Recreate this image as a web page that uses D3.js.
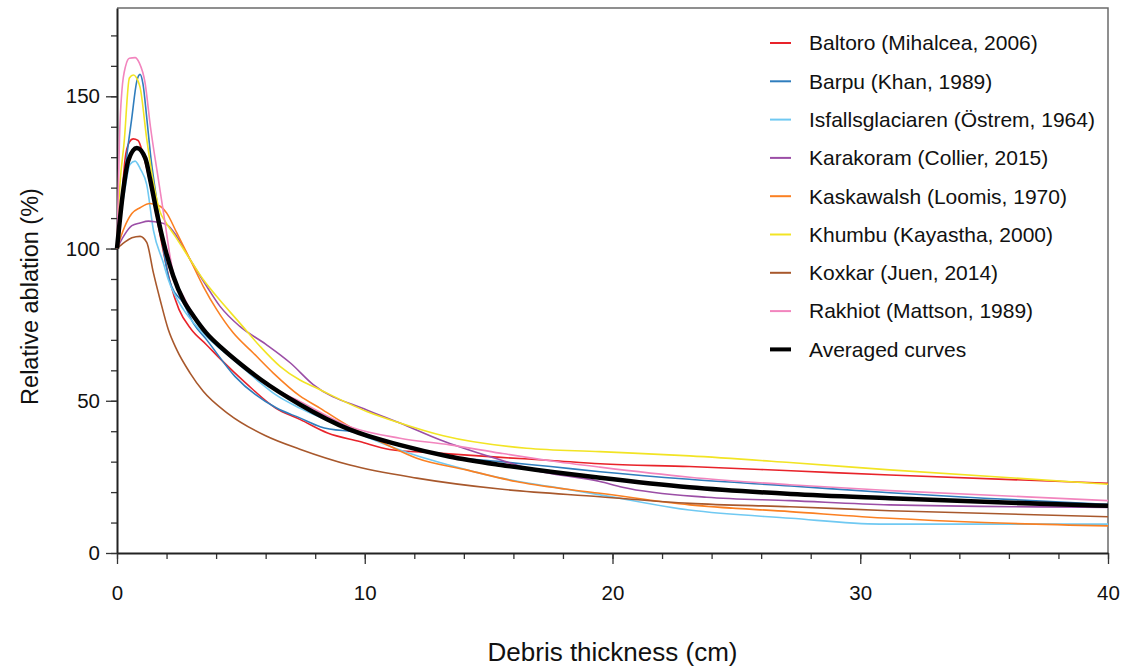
<!DOCTYPE html>
<html>
<head>
<meta charset="utf-8">
<script src="https://d3js.org/d3.v7.min.js"></script>
<style>
    body { margin: 0; background: #fff; }
    svg { display: block; font-family: "Liberation Sans", Arial, Helvetica, sans-serif; }
</style>
</head>
<body>
<div class="graph"></div>
<script>
// [debris thickness (cm), relative ablation (%)]
const baltoro = [[0,100],[0.19,116],[0.32,129],[0.5,135],[0.65,136],[0.85,135.5],[1.05,131],[1.4,119],[1.75,104],[2.14,89],[2.5,80],[3.0,73.4],[3.6,68.5],[4.2,63.5],[5.2,55.8],[6.4,47.6],[7.4,43.8],[8.5,39.4],[9.8,36.6],[11.0,34],[12.8,32.9],[15.5,31.4],[17.5,30.4],[19.5,29.3],[23.1,28.4],[27.2,27.0],[31.2,25.6],[40,22.9]];
const barpu = [[0,100],[0.19,114],[0.39,130],[0.59,142.4],[0.8,155],[0.93,157.2],[1.05,154],[1.2,143],[1.35,131],[1.6,116],[1.87,100],[2.07,91],[2.2,87.6],[2.68,82.1],[3.08,75.5],[3.62,70],[4.76,58],[6.44,47.6],[7.4,44.3],[8.2,41.5],[9.8,39.4],[11.4,35.5],[13.0,32.2],[15.5,30.0],[17.5,28.4],[19.5,26.7],[23.1,24.2],[27.2,22.0],[31.2,19.8],[35,18],[40,16]];
const isfalls = [[0,100],[0.19,112.8],[0.32,119.4],[0.52,127.6],[0.73,128.7],[0.95,126],[1.2,121],[1.47,106],[1.87,95.3],[2.07,89.8],[2.68,80],[3.22,74.4],[3.89,69],[4.69,63.5],[5.64,56.9],[6.4,52],[7.4,47.5],[9.4,40.5],[10.2,37.7],[12.2,31.7],[13.4,28.9],[15.5,24.6],[17.5,21.8],[19.5,19.1],[23.1,14.1],[27.2,11.4],[30.8,9.5],[40,9.5]];
const karakoram = [[0,100],[0.3,104.5],[0.6,107.5],[0.93,108.4],[1.27,109],[1.53,108.8],[2.0,107.9],[2.41,104],[2.95,96.4],[3.62,87.6],[4.16,81],[4.96,74.4],[6.0,68.6],[7.0,62.4],[7.92,55.3],[10.08,47],[11.42,42.7],[13.03,37.2],[15.46,30.6],[16.8,27.3],[19.49,23.5],[20.4,21.6],[23.8,18.3],[27.16,17.2],[31.19,15.8],[40,15.0]];
const kaskawalsh = [[0,100],[0.3,107],[0.6,111.5],[0.93,113.4],[1.33,114.8],[1.74,113.9],[2.0,111.7],[2.41,105.2],[2.95,96.4],[3.48,87.6],[4.02,80],[4.69,72.3],[5.5,65.7],[6.31,59.1],[7.38,51.6],[8.19,47.6],[9.4,41.5],[10.75,36.1],[12.1,31.1],[14.1,27.3],[16.1,23.5],[18.1,21.0],[19.49,19.6],[23.12,15.8],[27.16,13.6],[31.19,11.4],[35,10],[40,8.9]];
const khumbu = [[0,100],[0.05,111],[0.3,136],[0.5,156],[0.66,157],[0.85,155],[0.93,153],[1.2,136],[1.47,121.6],[1.74,112],[1.94,109],[2.35,104],[2.95,96.4],[3.48,89.8],[4.02,84.3],[4.96,75.5],[5.77,67.9],[6.58,61.3],[7.38,56.8],[7.92,54.7],[10.08,46.5],[11.42,42.7],[13.17,38.5],[16.53,34.4],[19.49,33.3],[23.12,31.9],[27.16,29.7],[31.19,27.3],[40,22.6]];
const koxkar = [[0,100],[0.3,102],[0.6,103.5],[0.93,104],[1.2,102],[1.47,92],[1.74,83.2],[2.07,73.4],[2.41,66.8],[2.95,59.1],[3.48,53.1],[4.48,45.8],[6.0,38.5],[7.38,34.1],[9.4,28.9],[12.1,24.6],[15.46,21.0],[19.49,18.5],[23.12,16.3],[27.16,15.2],[31.19,13.9],[40,11.9]];
const rakhiot = [[0,100],[0.05,118],[0.1,136],[0.2,152],[0.35,160],[0.5,162.5],[0.73,162.7],[0.9,161],[1.13,154.6],[1.35,140],[1.67,122.7],[1.94,108.4],[2.14,97.5],[2.27,92],[2.7,84],[3.1,78],[4,69],[5,61.5],[6,55.5],[7.38,49.8],[9.4,41.5],[11.42,37.7],[13.44,35.5],[15.46,32.8],[17.47,30.3],[19.49,28.2],[23.12,24.9],[27.16,22.4],[31.19,20.5],[40,17.2]];
const averaged = [[0,100],[0.25,119],[0.46,129],[0.8,133],[1.15,129.5],[1.33,123],[1.6,112],[1.94,100],[2.27,91],[2.68,83],[3.1,77.7],[3.6,72.3],[4.3,66.8],[5,62],[5.8,57],[7.4,48.7],[9.4,40.5],[11.4,35.5],[13.4,31.7],[15.5,28.9],[17.5,26.7],[19.5,24.7],[23.1,21.6],[27.2,19.4],[31.2,18],[35,16.8],[40,15.5]];

const seriesNames = ['Baltoro (Mihalcea, 2006)', 'Barpu (Khan, 1989)', 'Isfallsglaciaren (Östrem, 1964)',
    'Karakoram (Collier, 2015)', 'Kaskawalsh (Loomis, 1970)', 'Khumbu (Kayastha, 2000)',
    'Koxkar (Juen, 2014)', 'Rakhiot (Mattson, 1989)', 'Averaged curves'];
const seriesData = [baltoro, barpu, isfalls, karakoram, kaskawalsh, khumbu, koxkar, rakhiot, averaged];
const seriesColors = ['#e8232a', '#2f7dbd', '#70c9f2', '#9b4ea6', '#fb8022', '#f2e424', '#a8582c', '#f285be', '#000000'];

const xTicks = [0, 10, 20, 30, 40];
const yTicks = [0, 50, 100, 150];

const svgDim = { w: 1124, h: 666 };
const plot = { left: 117, right: 1108, top: 8, bottom: 553 };

const svg = d3.select('.graph').append('svg').attr('width', svgDim.w).attr('height', svgDim.h);

const xScale = d3.scaleLinear().domain([0, 40]).range([plot.left, plot.right]);
const yScale = d3.scaleLinear().domain([0, 179]).range([plot.bottom, plot.top]);

// frame (top + right)
svg.append('path')
    .attr('d', `M${plot.left},${plot.top}H${plot.right}V${plot.bottom}`)
    .attr('fill', 'none').attr('stroke', '#6b6b6b').attr('stroke-width', 1.5);

// minor ticks
const xMinor = svg.append('g').attr('transform', `translate(0,${plot.bottom})`)
    .call(d3.axisBottom(xScale).tickValues(d3.range(0, 41, 2)).tickSize(6).tickFormat(''));
xMinor.select('.domain').remove();
const yMinor = svg.append('g').attr('transform', `translate(${plot.left},0)`)
    .call(d3.axisLeft(yScale).tickValues(d3.range(0, 180, 10)).tickSize(6).tickFormat(''));
yMinor.select('.domain').remove();

// major axes
const xAxis = svg.append('g').attr('transform', `translate(0,${plot.bottom})`)
    .call(d3.axisBottom(xScale).tickValues(xTicks).tickSize(11).tickSizeOuter(0).tickPadding(21));
const yAxis = svg.append('g').attr('transform', `translate(${plot.left},0)`)
    .call(d3.axisLeft(yScale).tickValues(yTicks).tickSize(11).tickSizeOuter(0).tickPadding(6));

svg.selectAll('.tick line').attr('stroke', '#333').attr('stroke-width', 1.3);
[xAxis, yAxis].forEach(g => {
    g.select('.domain').attr('stroke', '#222').attr('stroke-width', 2);
    g.selectAll('text').attr('font-size', 20.5).attr('fill', '#111')
        .style('font-family', '"Liberation Sans", Arial, sans-serif');
});

// axis titles
svg.append('text')
    .attr('x', (plot.left + plot.right) / 2).attr('y', 661)
    .attr('text-anchor', 'middle').attr('font-size', 26).attr('fill', '#111')
    .text('Debris thickness (cm)');
svg.append('text')
    .attr('transform', `translate(38,${(plot.top + plot.bottom) / 2 + 16}) rotate(-90)`)
    .attr('text-anchor', 'middle').attr('font-size', 23.5).attr('fill', '#111')
    .text('Relative ablation (%)');

// curves
const line = d3.line()
    .x(d => xScale(d[0]))
    .y(d => yScale(d[1]))
    .curve(d3.curveMonotoneX);

svg.append('g').selectAll('path')
    .data(seriesData)
    .enter()
    .append('path')
    .attr('d', line)
    .attr('fill', 'none')
    .attr('stroke', (d, i) => seriesColors[i])
    .attr('stroke-width', (d, i) => i === seriesData.length - 1 ? 4.5 : 1.6)
    .attr('stroke-linejoin', 'round');

// legend
const legend = svg.append('g').attr('transform', 'translate(770,43)');
const rows = legend.selectAll('g')
    .data(seriesNames)
    .enter()
    .append('g')
    .attr('transform', (d, i) => `translate(0,${i * 38.3})`);
rows.append('line')
    .attr('x1', 0).attr('x2', 21).attr('y1', 0).attr('y2', 0)
    .attr('stroke', (d, i) => seriesColors[i])
    .attr('stroke-width', (d, i) => i === seriesNames.length - 1 ? 4 : 2);
rows.append('text')
    .attr('x', 39).attr('y', 0).attr('dy', '0.35em')
    .attr('font-size', 21).attr('fill', '#111')
    .text(d => d);
</script>
</body>
</html>
